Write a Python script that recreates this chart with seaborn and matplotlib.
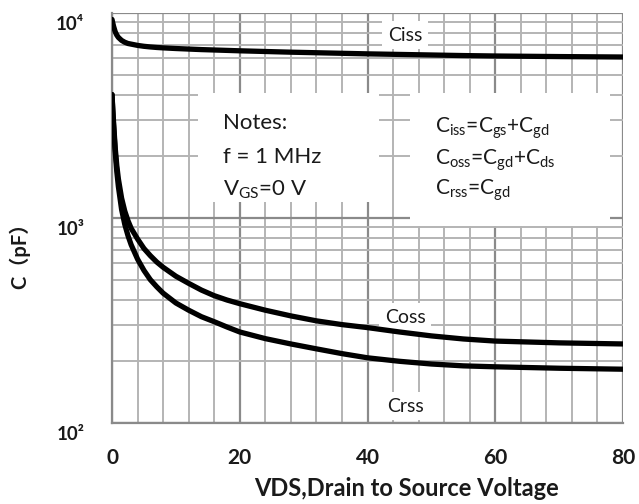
import matplotlib
matplotlib.use("Agg")
import matplotlib.pyplot as plt
import matplotlib.transforms as mtransforms
from matplotlib.patches import Rectangle
from matplotlib.ticker import FixedLocator, LogLocator, NullFormatter
import numpy as np
import pandas as pd
import seaborn as sns

# values (pF vs VDS in V)
vds = [0, 0.1, 0.25, 0.5, 0.75, 1, 1.5, 2, 2.5, 3, 4, 5, 6, 7, 8, 10, 12,
       14, 16, 18, 20, 24, 28, 32, 36, 40, 45, 50, 55, 60, 70, 80]
ciss = [9300, 9000, 8600, 8100, 7800, 7600, 7350, 7200, 7100, 7050, 6950,
        6880, 6830, 6790, 6760, 6710, 6670, 6630, 6600, 6570, 6540, 6490,
        6440, 6400, 6360, 6320, 6280, 6240, 6200, 6170, 6130, 6100]
coss = [4000, 3500, 2900, 2200, 1800, 1550, 1250, 1080, 970, 890, 790, 710,
        655, 610, 575, 520, 480, 445, 418, 398, 382, 355, 333, 315, 302, 292,
        278, 266, 257, 251, 246, 243]
crss = [4000, 3400, 2800, 2100, 1680, 1420, 1100, 930, 820, 740, 630, 555,
        500, 462, 430, 385, 355, 330, 312, 294, 278, 258, 243, 230, 218, 208,
        200, 194, 190, 188, 185, 183]

x_ticks = [0, 20, 40, 60, 80]
y_ticks = [1e2, 1e3, 1e4]
y_ticklabels = ["10²", "10³", "10⁴"]

df = pd.DataFrame({"VDS": vds, "Ciss": ciss, "Coss": coss, "Crss": crss})
long = df.melt(id_vars="VDS", var_name="curve", value_name="C")

sns.set_theme(style="white")
plt.rcParams["font.family"] = ["Lato", "Noto Sans CJK SC", "DejaVu Sans"]
plt.rcParams["mathtext.fontset"] = "custom"
plt.rcParams["mathtext.rm"] = "Lato"

TXT = "#1a1a1a"

fig = plt.figure(figsize=(6.39, 5.04), dpi=100)
ax = fig.add_axes([0.1753, 0.1607, 0.7997, 0.8135])

sns.lineplot(data=long, x="VDS", y="C", units="curve", estimator=None,
             color="black", linewidth=3.8, ax=ax, zorder=5)
ax.set_yscale("log")
ax.set_xlim(0, 80)
ax.set_ylim(100, 10000)

# grid: major every 20 V / decade, minor every 4 V / 2..9 x decade
ax.xaxis.set_major_locator(FixedLocator(x_ticks))
ax.xaxis.set_minor_locator(FixedLocator(np.arange(0, 81, 4)))
ax.yaxis.set_major_locator(FixedLocator(y_ticks))
ax.yaxis.set_minor_locator(LogLocator(base=10, subs=np.arange(2, 10)))
ax.yaxis.set_minor_formatter(NullFormatter())
ax.grid(which="major", color="#8a8a8a", linewidth=1.6, zorder=0)
ax.grid(which="minor", color="#b4b4b4", linewidth=1.4, zorder=0)
ax.set_axisbelow(True)
ax.tick_params(which="both", length=0)
for side, s in ax.spines.items():
    s.set_visible(side in ("left", "bottom"))
    s.set_color("#8a8a8a")
    s.set_linewidth(1.6)

ax.set_xticks(x_ticks)
ax.set_xticklabels([str(t) for t in x_ticks], fontsize=15, fontweight="bold",
                   color=TXT)
ax.tick_params(axis="x", pad=18)
ax.set_yticks(y_ticks)
ax.set_yticklabels(y_ticklabels, fontsize=13.5, fontweight="bold",
                   color=TXT, family=["Lato", "DejaVu Sans"])
ax.tick_params(axis="y", pad=20)
shift = mtransforms.ScaledTranslation(0, -7 / 72, fig.dpi_scale_trans)
for lbl in ax.get_yticklabels():
    lbl.set_transform(lbl.get_transform() + shift)

ax.set_xlabel("VDS,Drain to Source Voltage", fontsize=17, fontweight="bold",
              color=TXT)
ax.xaxis.set_label_coords(0.577, -0.132)
ax.set_ylabel("C（pF）", fontsize=14.5, fontweight="bold", color=TXT)
ax.yaxis.set_label_coords(-0.16, 0.42)

# white note boxes covering the grid
ax.add_patch(Rectangle((13.5, 1200), 28.3, 4070 - 1200, facecolor="white",
                       edgecolor="none", zorder=2))
ax.add_patch(Rectangle((46.6, 915), 31.3, 4070 - 915, facecolor="white",
                       edgecolor="none", zorder=2))

note_kw = dict(fontsize=16, color=TXT, zorder=3, va="center")
ax.text(17.4, 2900, "Notes:", **note_kw)
ax.text(17.4, 1990, "f = 1 MHz", **note_kw)
ax.text(17.4, 1370, r"V$_{\mathregular{GS}}$=0 V", **note_kw)

form_kw = dict(fontsize=15, color=TXT, zorder=3, va="center")
ax.text(50.5, 2750, r"C$_{\mathregular{iss}}$=C$_{\mathregular{gs}}$+C$_{\mathregular{gd}}$",
        **form_kw)
ax.text(50.5, 1920, r"C$_{\mathregular{oss}}$=C$_{\mathregular{gd}}$+C$_{\mathregular{ds}}$",
        **form_kw)
ax.text(50.5, 1370, r"C$_{\mathregular{rss}}$=C$_{\mathregular{gd}}$",
        **form_kw)

box = dict(facecolor="white", edgecolor="none", pad=4)
for name, yv in [("Ciss", 7800), ("Coss", 327), ("Crss", 121)]:
    ax.text(45.9, yv, name, fontsize=14, ha="center", va="center",
            color=TXT, bbox=box, zorder=3)

leg = ax.get_legend()
if leg is not None:
    leg.remove()

fig.savefig("out.png", dpi=100)
